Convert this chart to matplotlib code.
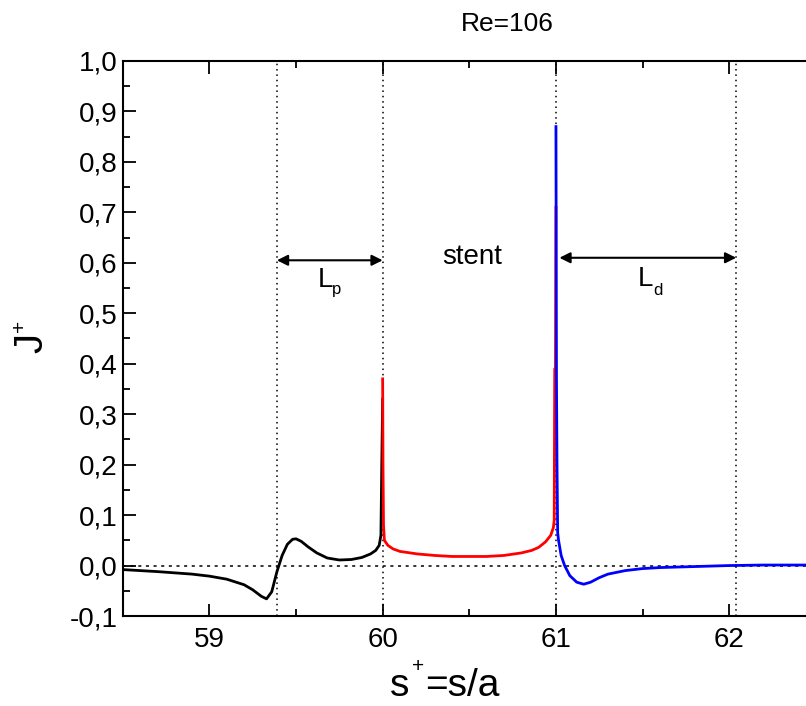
import numpy as np
import matplotlib
matplotlib.use("Agg")
import matplotlib.pyplot as plt

plt.rcParams['font.family'] = ['Liberation Sans', 'DejaVu Sans']

# proximal segment (black)
x_prox = [58.5, 58.7, 58.9, 59.0, 59.1, 59.2, 59.25, 59.3, 59.33, 59.36, 59.39,
          59.42, 59.45, 59.48, 59.5, 59.53, 59.57, 59.62, 59.68, 59.75, 59.82,
          59.88, 59.93, 59.96, 59.98, 59.99, 59.995, 60.0]
y_prox = [-0.008, -0.012, -0.017, -0.021, -0.027, -0.038, -0.048, -0.061, -0.066,
          -0.052, -0.012, 0.02, 0.042, 0.052, 0.053, 0.048, 0.037, 0.025, 0.015,
          0.011, 0.012, 0.016, 0.023, 0.03, 0.04, 0.06, 0.2, 0.33]

# stent segment (red)
x_stent = [60.0, 60.002, 60.005, 60.01, 60.03, 60.06, 60.1, 60.2, 60.3, 60.4, 60.5,
           60.6, 60.7, 60.8, 60.86, 60.9, 60.94, 60.97, 60.985, 60.99, 60.993,
           60.997, 61.0]
y_stent = [0.37, 0.2, 0.08, 0.05, 0.04, 0.033, 0.028, 0.023, 0.02, 0.018, 0.018,
           0.018, 0.02, 0.025, 0.03, 0.036, 0.047, 0.06, 0.075, 0.09, 0.39,
           0.39, 0.71]

# distal segment (blue)
x_dist = [61.0, 61.003, 61.006, 61.01, 61.015, 61.03, 61.05, 61.08, 61.12, 61.16,
          61.2, 61.25, 61.3, 61.4, 61.5, 61.6, 61.8, 62.0, 62.2, 62.45]
y_dist = [0.87, 0.37, 0.2, 0.065, 0.05, 0.02, 0.0, -0.02, -0.033, -0.037, -0.033,
          -0.024, -0.017, -0.01, -0.006, -0.004, -0.002, 0.0, 0.001, 0.001]

vlines_x = [59.39, 60.0, 61.0, 62.04]
xticks = [59, 60, 61, 62]
yticks = [-0.1, 0.0, 0.1, 0.2, 0.3, 0.4, 0.5, 0.6, 0.7, 0.8, 0.9, 1.0]
ytick_labels = ['-0,1', '0,0', '0,1', '0,2', '0,3', '0,4', '0,5', '0,6',
                '0,7', '0,8', '0,9', '1,0']

W, H = 806, 706


def ftext(px, py, s, **kw):
    # place text by pixel position (origin top-left)
    return fig.text(px / W, 1 - py / H, s, **kw)


fig = plt.figure(figsize=(W / 100, H / 100), dpi=100)
ax = fig.add_axes([122.7 / W, 90 / H, (W - 122.7) / W, 555 / H])

ax.plot(x_prox, y_prox, color='black', lw=2)
ax.plot(x_stent, y_stent, color='red', lw=2)
ax.plot(x_dist, y_dist, color='blue', lw=2)

for xv in vlines_x:
    ax.axvline(xv, color='black', lw=1.1, ls=(0, (1, 2.5)), zorder=0)
ax.axhline(0, color='black', lw=1.1, ls=(0, (2, 3)), zorder=0)

arrow = dict(arrowstyle='<|-|>', color='black', lw=1.5, mutation_scale=16,
             shrinkA=0, shrinkB=0)
ax.annotate('', xy=(59.39, 0.605), xytext=(60.0, 0.605), arrowprops=arrow)
ax.annotate('', xy=(61.02, 0.61), xytext=(62.04, 0.61), arrowprops=arrow)

ax.set_xlim(58.5, 58.5 + (W - 122.7) / 173.3)
ax.set_ylim(-0.1, 1.0)
ax.set_xticks(xticks)
ax.set_xticks([58.5, 59.5, 60.5, 61.5], minor=True)
ax.set_yticks(yticks)
ax.set_yticklabels(ytick_labels)
ax.set_yticks(np.arange(-0.05, 1.0, 0.1), minor=True)
ax.tick_params(which='both', direction='in', top=True, right=False,
               labelsize=20, width=1.3)
ax.tick_params(which='major', length=9)
ax.tick_params(which='minor', length=5)
ax.tick_params(axis='x', pad=8)
ax.spines['right'].set_visible(False)
for s in ['left', 'top', 'bottom']:
    ax.spines[s].set_linewidth(1.5)

# annotations inside the plot
ftext(472, 257, 'stent', fontsize=20, ha='center', va='center')
ftext(318, 287, 'L', fontsize=20, ha='left', va='baseline')
ftext(332, 294, 'p', fontsize=12, ha='left', va='baseline')
ftext(638, 286, 'L', fontsize=20, ha='left', va='baseline')
ftext(653, 295, 'd', fontsize=12, ha='left', va='baseline')

# title and axis labels
ftext(507, 24, 'Re=106', fontsize=19, ha='center', va='center')
ftext(390, 696, 's', fontsize=28, ha='left', va='baseline')
ftext(418, 666, '+', fontsize=15, ha='center', va='center')
ftext(425, 696, '=s/a', fontsize=28, ha='left', va='baseline')
ftext(31, 343, 'J', fontsize=29, rotation=90, ha='center', va='center')
ftext(19, 326, '+', fontsize=15, rotation=90, ha='center', va='center')

fig.savefig('out.png', dpi=100)
